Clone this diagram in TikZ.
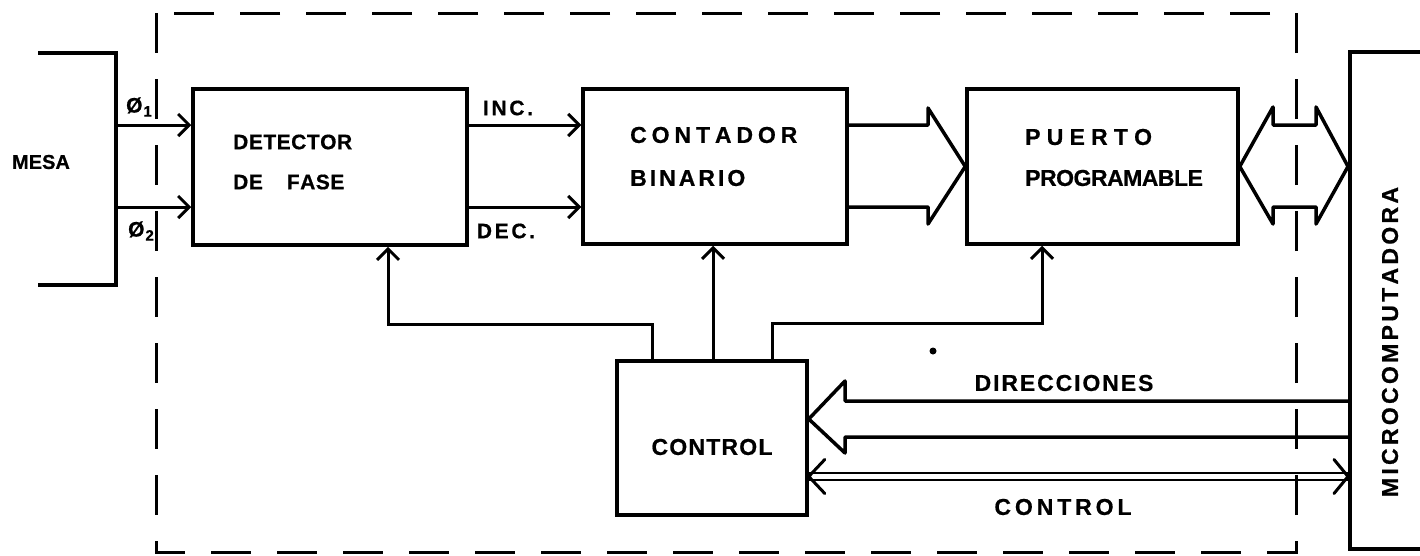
\documentclass[tikz,border=0pt]{standalone}
\usepackage{fontspec}
\setmainfont{Liberation Sans}[BoldFeatures={FakeBold=0.6}]
\usetikzlibrary{arrows.meta,calc}
\makeatletter
\newcommand\lsp[2]{{\def\lspk{#1}\@tfor\lspc:=#2\do{\lspc\kern\lspk}\unkern}}
\makeatother
\begin{document}
\begin{tikzpicture}[x=1pt,y=-1pt,
  box/.style={draw,line width=3.5pt,inner sep=0pt},
  lbl/.style={inner sep=0pt,font=\fontsize{23}{26}\selectfont\bfseries},
  slbl/.style={inner sep=0pt,font=\fontsize{21}{24}\selectfont\bfseries},
  arr/.style={line width=3pt,-{Straight Barb[length=11pt,width=22pt]}},
  bus/.style={line width=3.5pt,line join=round},
  wire/.style={line width=2.5pt},
  frame/.style={line width=3pt,dash pattern=on 40pt off 26pt}]
\useasboundingbox (0,0) rectangle (1420,555);
\fill[white] (0,0) rectangle (1420,555);
% frame
\draw[frame] (156,13) rectangle (1296,552);
% boxes
\node[box,minimum width=274pt,minimum height=156pt] (det) at (330,167) {};
\node[box,minimum width=264pt,minimum height=155pt] (cont) at (715,166.5) {};
\node[box,minimum width=271pt,minimum height=155pt] (puerto) at (1102.5,166.5) {};
\node[box,minimum width=190pt,minimum height=154pt] (ctrl) at (712,438) {};
\node[box,minimum width=100pt,minimum height=497pt,anchor=north west] (micro) at (1348,50) {};
% mesa bracket
\draw[line width=3.5pt] (38,53) -- (116,53) -- (116,285) -- (38,285);
\node[slbl,font=\fontsize{20}{24}\selectfont\bfseries] (mesa) at (41,162) {MESA};
% texts
\node[slbl,anchor=west] (tdet1) at (233,142) {\lsp{0.5pt}{DETECTOR}};
\node[slbl,anchor=west] (tdet2) at (233,182) {\lsp{0.5pt}{DE}\hspace{24pt}\lsp{0.5pt}{FASE}};
\node[lbl,anchor=west] (tcont1) at (630,135) {\lsp{4.9pt}{CONTADOR}};
\node[lbl,anchor=west] (tcont2) at (630,178) {\lsp{3pt}{BINARIO}};
\node[lbl,anchor=west] (tp1) at (1025,137) {\lsp{6.2pt}{PUERTO}};
\node[lbl,anchor=west] (tp2) at (1025,178) {\lsp{-0.5pt}{PROGRAMABLE}};
\node[lbl] (tctrl) at (712,447) {\lsp{1.2pt}{CONTROL}};
\node[lbl] (tdir) at (1064,383) {\lsp{1.9pt}{DIRECCIONES}};
\node[lbl] (tctl2) at (1063,507) {\lsp{3.9pt}{CONTROL}};
\node[lbl,rotate=90] (tmicro) at (1390,342) {\lsp{3.3pt}{MICROCOMPUTADORA}};
\node[slbl] (inc) at (508,108) {\lsp{2.7pt}{INC.}};
\node[slbl] (dec) at (506,231) {\lsp{2.7pt}{DEC.}};
\node[slbl] (ph1) at (139,107) {Ø\kern1pt\raisebox{-4pt}{\fontsize{15}{15}\selectfont 1}};
\node[slbl] (ph2) at (141,231) {Ø\kern1pt\raisebox{-4pt}{\fontsize{15}{15}\selectfont 2}};
% phase inputs
\coordinate (m1) at (116,125);
\coordinate (m2) at (116,207);
\draw[arr] (m1) -- (m1 -| det.west);
\draw[arr] (m2) -- (m2 -| det.west);
\draw[arr] (det.east |- m1) -- (cont.west |- m1);
\draw[arr] (det.east |- m2) -- (cont.west |- m2);
% bus contador -> puerto
\draw[bus] (cont.east |- m1) -- (928,125) -- (928,108) -- (puerto.west) -- (928,224) -- (928,207) -- (cont.east |- m2);
% bidirectional bus puerto <-> micro
\draw[bus] (1273,125) -- (1316,125) -- (1316,107) -- (micro.west |- puerto.west) -- (1316,224) -- (1316,207) -- (1273,207) -- (1273,224) -- (puerto.east) -- (1273,107) -- cycle;
% control lines
\coordinate (k1) at (652,324);
\coordinate (k1b) at (388,324);
\coordinate (k2) at (713,300);
\coordinate (k3) at (772,323);
\coordinate (k3b) at (1042,323);
\draw[arr,line join=miter] (ctrl.north -| k1) -- (k1) -- (k1b) -- (det.south -| k1b);
\draw[arr] (ctrl.north -| k2) -- (cont.south -| k2);
\draw[arr,line join=miter] (ctrl.north -| k3) -- (k3) -- (k3b) -- (puerto.south -| k3b);
% direcciones bus
\coordinate (d0) at (845,419);
\coordinate (dA) at (845,401);
\coordinate (dB) at (845,437);
\coordinate (dA1) at (845,381);
\coordinate (dB1) at (845,453);
\draw[bus] (micro.west |- dA) -- (dA) -- (dA1) -- (ctrl.east |- d0) -- (dB1) -- (dB) -- (micro.west |- dB);
% control double line
\coordinate (e1) at (0,473);
\coordinate (e2) at (0,480);
\coordinate (e0) at (0,476.5);
\draw[wire] (ctrl.east |- e1) -- (micro.west |- e1);
\draw[wire] (ctrl.east |- e2) -- (micro.west |- e2);
\draw[line width=3pt,line cap=round] ($(ctrl.east |- e0)+(16,-17)$) -- (ctrl.east |- e0) -- ($(ctrl.east |- e0)+(16,17)$);
\draw[line width=3pt,line cap=round] ($(micro.west |- e0)+(-14,-17)$) -- (micro.west |- e0) -- ($(micro.west |- e0)+(-14,17)$);
% speck
\fill (933,351) circle (3.5pt);
\end{tikzpicture}
\end{document}
